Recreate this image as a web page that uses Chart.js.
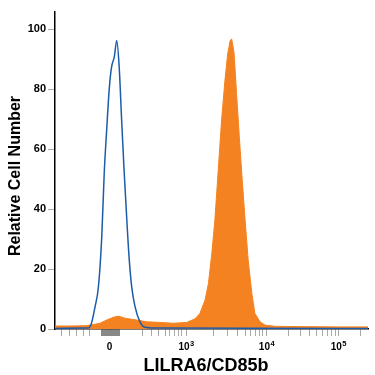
<!DOCTYPE html>
<html>
<head>
<meta charset="utf-8">
<script src="https://cdn.jsdelivr.net/npm/chart.js@4"></script>
<style>
  html, body { margin: 0; padding: 0; background: #fff; }
  #flow { display: block; }
</style>
</head>
<body>
<canvas id="flow" width="375" height="375"></canvas>
<script>
// display channels (0-1024) and relative cell number
const isoChannels = [0, 98, 108, 118, 131, 142, 153, 161, 169, 178, 185, 194, 202, 210, 218, 226, 235, 243, 251, 262, 278, 294, 344, 1024]
const isoCounts   = [0.2, 0.3, 0.3, 1.5, 7.4, 14, 30.8, 51.9, 66.3, 80.8, 87.4, 90.8, 96.3, 87.4, 69.7, 53, 36.3, 23, 14, 7.4, 2.4, 0.6, 0.3, 0.2]

const lilChannels = [0, 49, 98, 115, 131, 147, 169, 191, 207, 229, 267, 300, 344, 387, 431, 458, 474, 491, 502, 513, 523, 534, 545, 556, 565, 569, 573, 578, 582, 586, 594, 603, 611, 622, 632, 644, 654, 671, 687, 720, 802, 932, 1024]
const lilCounts   = [1.0, 1.0, 1.1, 1.3, 1.6, 1.9, 3.0, 3.9, 4.3, 3.6, 3.0, 2.4, 2.2, 1.9, 2.2, 3.4, 5.2, 9.7, 15.2, 25.2, 36.3, 53, 69.7, 83, 91.9, 94, 96.3, 96.8, 94.5, 91.9, 78.6, 64.1, 51.9, 36.3, 23, 11.9, 5.2, 2.4, 1.3, 0.9, 0.8, 0.7, 0.7]

const yTicks = [0, 20, 40, 60, 80, 100]
const xTickChannels = [22, 47, 71, 93, 112, 287, 316, 340, 360, 376, 390, 403, 414, 429,
  518, 565, 596, 623, 640, 655, 668, 680, 692,
  763, 804, 834, 857, 875, 891, 905, 917, 927, 998]
const xLabelChannels = [178, 429, 692, 927]
const xLabelBase = ['0', '10', '10', '10']
const xLabelExp  = ['', '3', '4', '5']

// dense ticks round zero (the grey block under the axis)
const zeroBlock = []
for (let c = 153; c <= 210; c += 3) zeroBlock.push(c)

const allTicks = xTickChannels.concat(zeroBlock, [178]).sort((a, b) => a - b)

const toPoints = (xs, ys) => xs.map((x, i) => ({ x: x, y: ys[i] }))

const FONT = '"Liberation Sans", Arial, sans-serif'

// axis titles + x labels with real superscripts
const titles = {
  id: 'titles',
  afterDraw(chart) {
    const ctx = chart.ctx
    const xs = chart.scales.x
    ctx.save()
    ctx.fillStyle = '#000'
    ctx.textBaseline = 'alphabetic'

    xLabelChannels.forEach((c, i) => {
      const px = xs.getPixelForValue(c)
      ctx.font = 'bold 10px ' + FONT
      const bw = ctx.measureText(xLabelBase[i]).width
      ctx.font = 'bold 7.5px ' + FONT
      const ew = xLabelExp[i] ? ctx.measureText(xLabelExp[i]).width : 0
      let left = px - (bw + ew) / 2
      ctx.textAlign = 'left'
      ctx.font = 'bold 10px ' + FONT
      ctx.fillText(xLabelBase[i], left, 350)
      if (ew) {
        ctx.font = 'bold 7.5px ' + FONT
        ctx.fillText(xLabelExp[i], left + bw + 0.5, 346)
      }
    })

    ctx.textAlign = 'center'
    ctx.font = 'bold 18px ' + FONT
    ctx.fillText('LILRA6/CD85b', 206, 371)
    ctx.translate(20, 176)
    ctx.rotate(-Math.PI / 2)
    ctx.font = 'bold 16px ' + FONT
    ctx.fillText('Relative Cell Number', 0, 0)
    ctx.restore()
  }
}

const canva = document.querySelector('#flow')

const flowChart = new Chart(canva, {
  type: 'line',
  data: {
    datasets: [{
      label: 'Isotype',
      data: toPoints(isoChannels, isoCounts),
      borderColor: '#1c5cab',
      borderWidth: 1.5,
      pointRadius: 0,
      fill: false,
      cubicInterpolationMode: 'monotone',
      order: 0
    }, {
      label: 'LILRA6/CD85b',
      data: toPoints(lilChannels, lilCounts),
      borderColor: '#f58220',
      backgroundColor: '#f58220',
      borderWidth: 1,
      pointRadius: 0,
      fill: 'origin',
      tension: 0,
      order: 1
    }]
  },
  options: {
    responsive: false,
    animation: false,
    layout: { padding: { top: 12, right: 7, left: 0, bottom: 0 } },
    plugins: { legend: { display: false }, tooltip: { enabled: false } },
    scales: {
      x: {
        type: 'linear',
        min: 0,
        max: 1024,
        afterFit: s => { s.height = 46 },
        afterBuildTicks: s => { s.ticks = allTicks.map(v => ({ value: v })) },
        border: { color: '#000', width: 1.5 },
        grid: {
          drawOnChartArea: false,
          tickLength: 7,
          tickColor: ctx => (ctx.tick && ctx.tick.value >= 153 && ctx.tick.value <= 210) ? '#888' : '#aaa'
        },
        ticks: {
          autoSkip: false,
          maxRotation: 0,
          callback: () => ''
        }
      },
      y: {
        min: 0,
        max: 105.8,
        afterFit: s => { s.width = 55 },
        afterBuildTicks: s => { s.ticks = yTicks.map(v => ({ value: v })) },
        border: { color: '#000', width: 1.5 },
        grid: { drawOnChartArea: false, tickLength: 7, tickColor: '#aaa' },
        ticks: {
          padding: 2,
          color: '#000',
          font: { family: FONT, size: 11, weight: 'bold' }
        }
      }
    }
  },
  plugins: [titles]
})
</script>
</body>
</html>
